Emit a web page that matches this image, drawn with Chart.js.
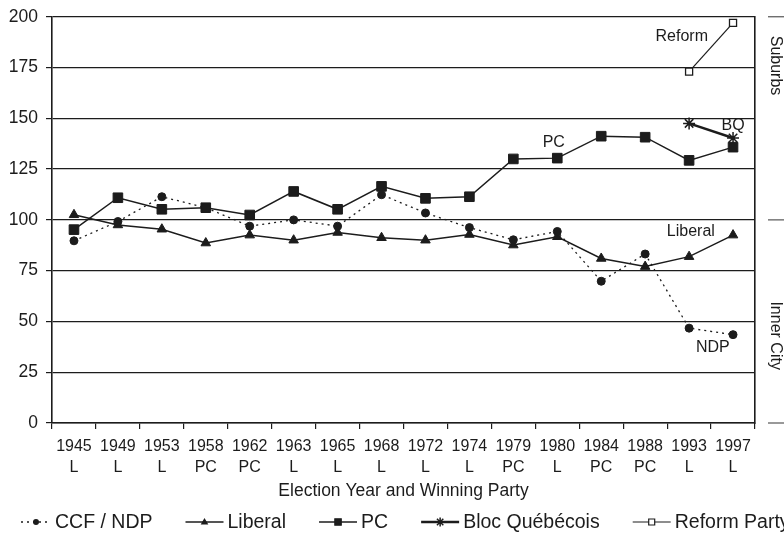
<!DOCTYPE html>
<html><head><meta charset="utf-8">
<script src="https://cdn.jsdelivr.net/npm/chart.js@4"></script>
<style>html,body{margin:0;padding:0;background:#fff}#wrap{width:784px;height:534px}</style>
</head><body><div id="wrap"><canvas id="c" width="784" height="534"></canvas></div>
<script>
const years = ['1945','1949','1953','1958','1962','1963','1965','1968','1972','1974','1979','1980','1984','1988','1993','1997'];
const winners = ['L','L','L','PC','PC','L','L','L','L','L','PC','L','PC','PC','L','L'];
const ndp = [89.7,99.2,111.4,106,96.9,100,96.9,112.4,103.4,96.2,90.2,94.3,69.8,83.2,46.7,43.5];
const liberal = [102.5,97.5,95.4,88.6,92.5,90,93.8,91.2,90,92.8,87.6,91.7,81,77,81.9,92.5];
const pc = [95.2,110.9,105.2,106,102.4,114,105.2,116.5,110.6,111.4,130,130.4,141.2,140.7,129.3,135.8];
const bq = [null,null,null,null,null,null,null,null,null,null,null,null,null,null,147.5,140.3];
const reform = [null,null,null,null,null,null,null,null,null,null,null,null,null,null,173,197];
const seriesNames = ['CCF / NDP','Liberal','PC','Bloc Québécois','Reform Party'];
const yTickStep = 25;
const yMin = 0, yMax = 200;
const sideMarks = [0,100,200];
const sideLabels = [{text:'Suburbs', value:176},{text:'Inner City', value:43}];
const lineLabels = [
  {text:'Reform', index:14.43, value:190, align:'right'},
  {text:'BQ', index:15.0, value:146.6, align:'center'},
  {text:'PC', index:10.92, value:138, align:'center'},
  {text:'Liberal', index:14.04, value:94, align:'center'},
  {text:'NDP', index:14.54, value:37, align:'center'}
];

const INK = '#1c1c1c';
const FONT = '"Liberation Sans", Arial, Helvetica, sans-serif';

function drawMarker(ctx, style, x, y, r, fill) {
  ctx.save();
  ctx.fillStyle = fill; ctx.strokeStyle = INK; ctx.lineWidth = 1.2; ctx.setLineDash([]);
  ctx.beginPath();
  if (style === 'circle') { ctx.arc(x, y, r, 0, Math.PI*2); ctx.fill(); }
  else if (style === 'triangle') {
    ctx.moveTo(x, y - r); ctx.lineTo(x + r*0.95, y + r*0.6); ctx.lineTo(x - r*0.95, y + r*0.6); ctx.closePath(); ctx.fill();
  } else if (style === 'rect') { ctx.rect(x - r, y - r, 2*r, 2*r); ctx.fill(); ctx.stroke(); }
  else if (style === 'star') {
    ctx.lineWidth = 1.5;
    for (let a = 0; a < 4; a++) { const t = a*Math.PI/4; ctx.moveTo(x - r*Math.cos(t), y - r*Math.sin(t)); ctx.lineTo(x + r*Math.cos(t), y + r*Math.sin(t)); }
    ctx.stroke();
  }
  ctx.restore();
}

const extras = {
  id: 'extras',
  afterDatasetsDraw(chart) {
    const {ctx, chartArea, scales} = chart;
    const xs = scales.x, ys = scales.y;
    ctx.save();
    ctx.font = '16px ' + FONT; ctx.fillStyle = INK; ctx.textBaseline = 'middle';
    lineLabels.forEach(l => {
      ctx.textAlign = l.align;
      ctx.fillText(l.text, xs.getPixelForValue(l.index), ys.getPixelForValue(l.value));
    });
    ctx.strokeStyle = '#555'; ctx.lineWidth = 1.2;
    sideMarks.forEach(v => {
      const py = ys.getPixelForValue(v);
      ctx.beginPath(); ctx.moveTo(chartArea.right + 13, py); ctx.lineTo(chart.width, py); ctx.stroke();
    });
    ctx.textAlign = 'center';
    sideLabels.forEach(s => {
      ctx.save();
      ctx.translate(chartArea.right + 20, ys.getPixelForValue(s.value));
      ctx.rotate(Math.PI/2);
      ctx.fillText(s.text, 0, 0);
      ctx.restore();
    });
    // legend
    ctx.font = '19.5px ' + FONT; ctx.textAlign = 'left';
    const ly = chart.height - 12;
    let x = 21;
    chart.data.datasets.forEach((ds, i) => {
      const L = i === 0 ? 30 : 38;
      ctx.save();
      ctx.strokeStyle = INK; ctx.lineWidth = ds.borderWidth; ctx.setLineDash(ds.borderDash || []);
      ctx.beginPath(); ctx.moveTo(x, ly); ctx.lineTo(x + L, ly); ctx.stroke();
      ctx.restore();
      drawMarker(ctx, ds.legendMarker, x + L/2, ly, ds.legendR, ds.pointBackgroundColor);
      ctx.fillStyle = INK;
      ctx.fillText(ds.label, x + L + 4, ly + 1);
      x += L + 4 + ctx.measureText(ds.label).width + 33;
    });
    ctx.restore();
  }
};

const mk = (label, data, o) => Object.assign({
  label, data, borderColor: INK, pointBorderColor: INK, pointBackgroundColor: INK,
  borderWidth: 1.5, pointBorderWidth: 1, spanGaps: false, tension: 0
}, o);

new Chart(document.getElementById('c'), {
  type: 'line',
  data: {
    labels: years.map((y, i) => [y, winners[i]]),
    datasets: [
      mk(seriesNames[0], ndp, {borderWidth: 1.3, borderDash: [2, 4], pointStyle: 'circle', pointRadius: 4, legendMarker: 'circle', legendR: 3}),
      mk(seriesNames[1], liberal, {pointStyle: 'triangle', pointRadius: 5.5, legendMarker: 'triangle', legendR: 4}),
      mk(seriesNames[2], pc, {pointStyle: 'rect', pointRadius: 6.8, legendMarker: 'rect', legendR: 3.2}),
      mk(seriesNames[3], bq, {borderWidth: 2.5, pointStyle: 'star', pointRadius: 6, pointBorderWidth: 1.5, legendMarker: 'star', legendR: 4.5}),
      mk(seriesNames[4], reform, {borderWidth: 1.2, pointStyle: 'rect', pointRadius: 5, pointBackgroundColor: '#fff', pointBorderWidth: 1.3, legendMarker: 'rect', legendR: 3})
    ]
  },
  options: {
    responsive: false, animation: false, devicePixelRatio: 1,
    layout: {padding: {left: 0, right: 29, top: 13, bottom: 32}},
    plugins: {legend: {display: false}, tooltip: {enabled: false}},
    scales: {
      x: {
        type: 'category', offset: true,
        grid: {display: true, drawOnChartArea: false, drawTicks: true, tickLength: 6, color: INK, lineWidth: 1.2, offset: true},
        border: {display: true, color: INK, width: 1.6},
        ticks: {color: INK, font: {family: FONT, size: 16, lineHeight: 1.3125}, padding: 7, maxRotation: 0, autoSkip: false},
        title: {display: true, text: 'Election Year and Winning Party', color: INK, font: {family: FONT, size: 17.5, lineHeight: 1.2}, padding: 0},
        afterFit: s => { s.height = 79; }
      },
      y: {
        min: yMin, max: yMax,
        grid: {color: INK, lineWidth: 1.2, tickLength: 6},
        border: {display: true, color: INK, width: 1.6},
        ticks: {stepSize: yTickStep, color: INK, font: {family: FONT, size: 17.5, lineHeight: 1.0}, padding: 8},
        afterFit: s => { s.width = 52; }
      },
      y2: {
        position: 'right', min: yMin, max: yMax,
        grid: {drawOnChartArea: false, drawTicks: false},
        border: {display: true, color: INK, width: 1.6},
        ticks: {display: false},
        afterFit: s => { s.width = 0; }
      }
    }
  },
  plugins: [extras]
});
</script></body></html>
